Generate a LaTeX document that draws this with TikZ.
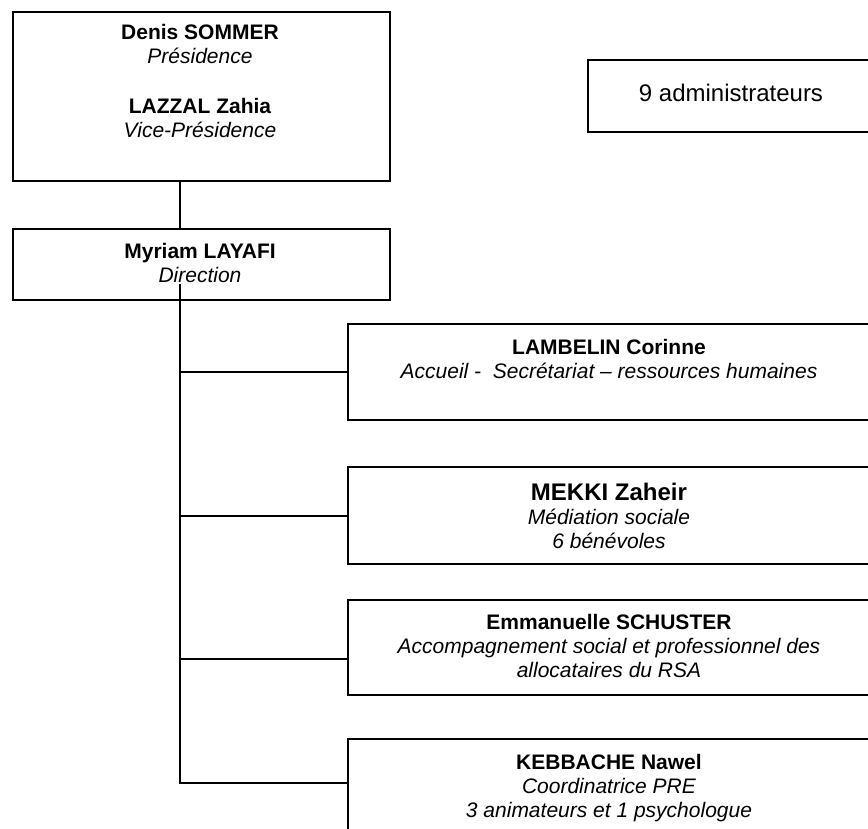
\documentclass[tikz,border=0pt]{standalone}
\usepackage{fontspec}
\setmainfont{Liberation Sans}
\usetikzlibrary{positioning, calc}

\begin{document}
\begin{tikzpicture}[
    x=1pt, y=-1pt, % one unit = one pixel of the page, y counted downwards
    % Boxes are drawn empty, their text is set near the top (anchored on its last line)
    org box/.style={draw=black, line width=1.8pt, rectangle, inner sep=0pt, anchor=north west},
    org text/.style={align=center, anchor=base, inner sep=0pt, font=\fontsize{21}{24}\selectfont},
    link/.style={draw=black, line width=1.5pt}
]

    % Page frame (the right hand boxes run off the page)
    \useasboundingbox (0,0) rectangle (868,829);
    \clip (0,0) rectangle (868,829);

    % -------------------------
    % Left: board and direction
    % -------------------------
    \node[org box, minimum width=377pt, minimum height=169pt] (pres) at (12,11) {};
    \node[org text] (pres txt) at (200,138)
        {{\bfseries Denis SOMMER}\\{\itshape Présidence}\\[26pt]{\bfseries LAZZAL Zahia}\\{\itshape Vice-Présidence}};

    \node[org box, minimum width=377pt, minimum height=71pt] (dir) at (12,228) {};
    \node[org text] (dir txt) at (200,283)
        {{\bfseries Myriam LAYAFI}\\{\itshape Direction}};

    % Board size, top right
    \node[org box, minimum width=287pt, minimum height=72pt] (admin) at (587,59) {};
    \node[org text, font=\fontsize{24}{27}\selectfont] (admin txt) at (731,102) {9 administrateurs};

    % -------------------------
    % Right: the four services
    % -------------------------
    \node[org box, minimum width=527pt, minimum height=96pt] (accueil) at (347,323) {};
    \node[org text] (accueil txt) at (609,378)
        {{\bfseries LAMBELIN Corinne}\\{\itshape Accueil -~ Secrétariat – ressources humaines}};

    \node[org box, minimum width=527pt, minimum height=97pt] (mediation) at (347,466) {};
    \node[org text] (mediation txt) at (609,548)
        {{\fontsize{24}{27}\selectfont\bfseries MEKKI Zaheir}\\{\itshape Médiation sociale}\\{\itshape 6 bénévoles}};

    \node[org box, minimum width=527pt, minimum height=95pt] (rsa) at (347,599) {};
    \node[org text] (rsa txt) at (609,677)
        {{\bfseries Emmanuelle SCHUSTER}\\{\itshape Accompagnement social et professionnel des}\\{\itshape allocataires du RSA}};

    \node[org box, minimum width=527pt, minimum height=120pt] (pre) at (347,738) {};
    \node[org text] (pre txt) at (609,817)
        {{\bfseries KEBBACHE Nawel}\\{\itshape Coordinatrice PRE}\\{\itshape 3 animateurs et 1 psychologue}};

    % Connectors: board to direction, then the trunk to each service
    \coordinate (pres tap) at ($(pres.south west)+(168,0)$);
    \draw[link] (pres tap) -- (pres tap |- dir.north);

    \coordinate (trunk top) at ($(dir.south west)+(168,-17)$);
    \coordinate (mediation tap) at ($(mediation.north west)+(0,50)$);
    \coordinate (rsa tap) at ($(rsa.north west)+(0,60)$);
    \coordinate (pre tap) at ($(pre.north west)+(2,45)$);
    \draw[link] (trunk top) -- (trunk top |- pre tap) -- (pre tap);
    \draw[link] (trunk top |- accueil.west) -- (accueil.west);
    \draw[link] (trunk top |- mediation tap) -- (mediation tap);
    \draw[link] (trunk top |- rsa tap) -- (rsa tap);

\end{tikzpicture}
\end{document}
